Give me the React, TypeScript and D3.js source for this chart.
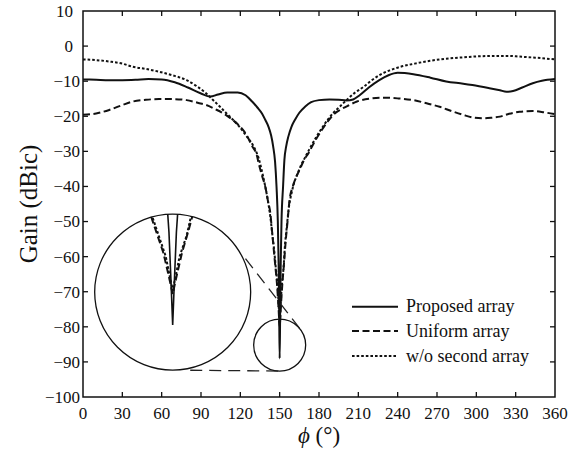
import React from 'react';
import * as d3 from 'd3';

// chart size and plot box
const W = 586;
const H = 459;
const margin = { top: 11, right: 31, bottom: 62, left: 83 };
const FONT = '"Liberation Serif", "Times New Roman", serif';

// axes
const phiTicks = [0, 30, 60, 90, 120, 150, 180, 210, 240, 270, 300, 330, 360];
const gainTicks = [10, 0, -10, -20, -30, -40, -50, -60, -70, -80, -90, -100];

// Proposed array (solid)
const proposedPhi = [0, 10, 20, 30, 40, 50, 60, 70, 80, 90, 97, 103, 110, 118, 124, 129, 133, 136.5, 139, 141.5, 143.5, 145, 146.5, 147.6, 148.6, 149.2, 149.6, 150, 150.4, 150.8, 151.4, 152.6, 153.6, 155, 156.6, 159, 161.7, 165, 169.3, 174, 180, 188, 195, 201, 206, 211, 218, 226, 233, 240, 252, 265, 277, 290, 297, 310, 318, 323, 328, 335, 343, 350, 360];
const proposedGain = [-9.5, -9.6, -9.7, -9.7, -9.6, -9.4, -9.5, -10.3, -11.8, -13.5, -14.4, -13.8, -13.2, -13.2, -14.0, -15.8, -17.5, -19.2, -21, -23, -25.5, -28.5, -33, -40, -50, -62, -75, -89, -75, -62, -50, -40, -32.5, -28.5, -25.8, -23, -21, -19, -17.3, -16, -15.4, -15.2, -15.3, -15.5, -15.2, -14, -11.8, -9.7, -8.3, -7.6, -8.0, -9.0, -10.1, -10.7, -11.1, -12, -12.6, -13, -12.8, -11.8, -10.6, -9.9, -9.4];

// Uniform array (dashed)
const uniformPhi = [0, 10, 20, 30, 38, 48, 58, 68, 79, 88, 94, 101, 108, 114, 120, 125, 129, 132.5, 134, 137, 139, 141, 143, 144, 145, 146.5, 148, 149.2, 150, 150.8, 152, 153.3, 154.5, 156, 157.5, 160, 163, 165.5, 168.5, 172, 177, 182, 187, 192, 196, 202, 209, 218, 229, 240, 252, 262, 272, 281, 290, 298, 305, 312, 318, 325, 333, 343, 352, 360];
const uniformGain = [-19.6, -19.2, -18.2, -16.8, -15.8, -15.3, -15.1, -15.1, -15.4, -16.2, -16.8, -18, -19.4, -21, -23, -25.5, -28.5, -31, -33.4, -37.5, -40, -44, -48, -52, -56, -62, -68, -75, -80, -75, -68, -62, -56, -50, -44, -40, -37, -35, -32.5, -30.5, -27, -24, -21.3, -19.2, -18.2, -17, -15.8, -15, -14.7, -14.9, -15.4, -16.3, -17.3, -18.5, -19.6, -20.4, -20.6, -20.4, -20.1, -19.3, -18.7, -18.5, -18.9, -19.4];

// w/o second array (dotted)
const woPhi = [0, 10, 20, 30, 38, 48, 58, 68, 79, 87, 94, 99, 104.5, 109.5, 114.4, 120, 125, 130, 134, 137, 139, 141, 143, 144.5, 145.5, 147, 148.5, 149.4, 150, 150.6, 151.5, 153, 154, 155.3, 157, 159, 161, 163.5, 166, 169, 172.5, 177.5, 182.5, 187, 191, 196, 201, 207, 214, 220, 226.5, 234, 242, 253, 264.7, 277, 290, 303, 315.6, 325, 333, 345, 360];
const woGain = [-3.8, -4.0, -4.4, -5.0, -5.9, -6.5, -7.3, -8.3, -9.7, -11.5, -13.5, -15.3, -17.3, -19.2, -21, -23.3, -25.8, -28.5, -32, -36.5, -40, -44, -49, -54, -57, -63, -69, -75, -79, -75, -69, -63, -57, -52, -46, -42, -39, -36.5, -34.2, -32, -29.5, -26.2, -23.2, -20.8, -19, -17.2, -15.4, -13.4, -11.6, -9.8, -8.2, -6.9, -5.9, -5.0, -4.2, -3.6, -3.2, -2.9, -2.8, -2.8, -3.0, -3.3, -3.8];

const seriesNames = ['Proposed array', 'Uniform array', 'w/o second array'];
const seriesDash = [null, '7,3.5', '2.6,2'];

// zoom marker (main-plot coordinates) and magnified inset
const zoomCenter = [150, -85.2];
const zoomRadius = 26;
const insetCenter = [68.4, -70.1];
const insetRadius = 78;
const insetPhi = [133.2, 166.8];
const insetGain = [-56.7, -102.1];

const series = seriesNames.map((name, i) => ({
  name,
  dash: seriesDash[i],
  pts: [
    proposedPhi.map((p, j) => [p, proposedGain[j]]),
    uniformPhi.map((p, j) => [p, uniformGain[j]]),
    woPhi.map((p, j) => [p, woGain[j]]),
  ][i],
}));

const fmt = (v: number) => (v < 0 ? '\u2212' + Math.abs(v) : String(v));

export default function App() {
  const x0 = margin.left;
  const x1 = W - margin.right;
  const y0 = margin.top;
  const y1 = H - margin.bottom;

  const x = d3.scaleLinear().domain([0, 360]).range([x0, x1]);
  const y = d3.scaleLinear().domain([10, -100]).range([y0, y1]);

  const line = d3
    .line<number[]>()
    .x((d) => x(d[0]))
    .y((d) => y(d[1]))
    .curve(d3.curveMonotoneX);

  // inset geometry
  const icx = x(insetCenter[0]);
  const icy = y(insetCenter[1]);
  const zcx = x(zoomCenter[0]);
  const zcy = y(zoomCenter[1]);

  const ix = d3.scaleLinear().domain(insetPhi).range([icx - insetRadius, icx + insetRadius]);
  const iy = d3.scaleLinear().domain(insetGain).range([icy - insetRadius, icy + insetRadius]);
  const insetLine = d3
    .line<number[]>()
    .x((d) => ix(d[0]))
    .y((d) => iy(d[1]))
    .curve(d3.curveLinear);

  // external common tangents between the two circles
  const dx = zcx - icx;
  const dy = zcy - icy;
  const dist = Math.hypot(dx, dy);
  const base = Math.atan2(dy, dx);
  const a = Math.acos((insetRadius - zoomRadius) / dist);
  const tangents = [base - a, base + a].map((n) => {
    const p1 = [icx + insetRadius * Math.cos(n), icy + insetRadius * Math.sin(n)];
    const p2 = [zcx + zoomRadius * Math.cos(n), zcy + zoomRadius * Math.sin(n)];
    const t0 = 0.17;
    return [p1[0] + (p2[0] - p1[0]) * t0, p1[1] + (p2[1] - p1[1]) * t0, p2[0], p2[1]];
  });

  const tick = 5;
  const legendX = 352;
  const legendY = [306.7, 331, 356];

  return (
    <svg
      width={W}
      height={H}
      style={{ position: 'absolute', left: 0, top: 0, background: '#fff' }}
      fontFamily={FONT}
    >
      <defs>
        <clipPath id="plotClip">
          <rect x={x0} y={y0} width={x1 - x0} height={y1 - y0} />
        </clipPath>
        <clipPath id="insetClip">
          <circle cx={icx} cy={icy} r={insetRadius} />
        </clipPath>
      </defs>
      <rect width={W} height={H} fill="#fff" />

      {/* curves */}
      <g clipPath="url(#plotClip)">
        {series.map((s) => (
          <path
            key={s.name}
            d={line(s.pts) || ''}
            fill="none"
            stroke="#111"
            strokeWidth={2}
            strokeDasharray={s.dash || undefined}
          />
        ))}
      </g>

      {/* zoom marker + connectors */}
      <circle cx={zcx} cy={zcy} r={zoomRadius} fill="none" stroke="#111" strokeWidth={1.3} />
      {tangents.map((t, i) => (
        <line key={i} x1={t[0]} y1={t[1]} x2={t[2]} y2={t[3]} stroke="#222" strokeWidth={1.3} strokeDasharray="12,7" />
      ))}

      {/* magnified inset */}
      <circle cx={icx} cy={icy} r={insetRadius} fill="#fff" stroke="#111" strokeWidth={1.3} />
      <g clipPath="url(#insetClip)">
        {series.map((s) => (
          <path
            key={s.name}
            d={insetLine(s.pts) || ''}
            fill="none"
            stroke="#111"
            strokeWidth={s.dash ? 2 : 1.6}
            strokeDasharray={s.dash || undefined}
          />
        ))}
      </g>

      {/* frame */}
      <rect x={x0} y={y0} width={x1 - x0} height={y1 - y0} fill="none" stroke="#111" strokeWidth={1.5} />
      {phiTicks.slice(1, -1).map((t) => (
        <g key={'xt' + t}>
          <line x1={x(t)} x2={x(t)} y1={y1} y2={y1 - tick} stroke="#111" strokeWidth={1.3} />
          <line x1={x(t)} x2={x(t)} y1={y0} y2={y0 + tick} stroke="#111" strokeWidth={1.3} />
        </g>
      ))}
      {gainTicks.slice(1, -1).map((t) => (
        <g key={'yt' + t}>
          <line x1={x0} x2={x0 + tick} y1={y(t)} y2={y(t)} stroke="#111" strokeWidth={1.3} />
          <line x1={x1} x2={x1 - tick} y1={y(t)} y2={y(t)} stroke="#111" strokeWidth={1.3} />
        </g>
      ))}

      {/* tick labels */}
      {phiTicks.map((t) => (
        <text key={'xl' + t} x={x(t)} y={y1 + 22} fontSize={17} textAnchor="middle" fill="#111">
          {t}
        </text>
      ))}
      {gainTicks.map((t) => (
        <text
          key={'yl' + t}
          x={x0 - (t >= 0 ? 10 : 3)}
          y={y(t)}
          dy="0.35em"
          fontSize={17}
          textAnchor="end"
          fill="#111"
        >
          {fmt(t)}
        </text>
      ))}

      {/* axis titles */}
      <text
        transform={`translate(37, ${(y0 + y1) / 2}) rotate(-90)`}
        fontSize={25}
        textAnchor="middle"
        fill="#111"
      >
        Gain (dBic)
      </text>
      <text x={(x0 + x1) / 2} y={443} fontSize={23} textAnchor="middle" fill="#111">
        <tspan fontStyle="italic">{'\u03D5'}</tspan>
        <tspan> (°)</tspan>
      </text>

      {/* legend */}
      {series.map((s, i) => (
        <g key={'lg' + s.name}>
          <line
            x1={legendX}
            x2={legendX + 46}
            y1={legendY[i]}
            y2={legendY[i]}
            stroke="#111"
            strokeWidth={2}
            strokeDasharray={s.dash || undefined}
          />
          <text x={legendX + 54} y={legendY[i] + 5.5} fontSize={18} fill="#111">
            {s.name}
          </text>
        </g>
      ))}
    </svg>
  );
}
